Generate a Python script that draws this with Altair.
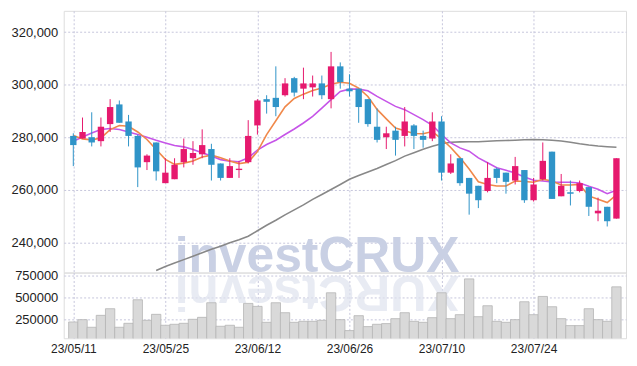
import altair as alt
import pandas as pd

# ---------------- data ----------------
dates = ["23/05/11", "23/05/12", "23/05/15", "23/05/16", "23/05/17", "23/05/18", "23/05/19",
         "23/05/22", "23/05/23", "23/05/24", "23/05/25", "23/05/26", "23/05/30", "23/05/31",
         "23/06/01", "23/06/02", "23/06/05", "23/06/07", "23/06/08", "23/06/09", "23/06/12",
         "23/06/13", "23/06/14", "23/06/15", "23/06/16", "23/06/19", "23/06/20", "23/06/21",
         "23/06/22", "23/06/23", "23/06/26", "23/06/27", "23/06/28", "23/06/29", "23/06/30",
         "23/07/03", "23/07/04", "23/07/05", "23/07/06", "23/07/07", "23/07/10", "23/07/11",
         "23/07/12", "23/07/13", "23/07/14", "23/07/17", "23/07/18", "23/07/19", "23/07/20",
         "23/07/21", "23/07/24", "23/07/25", "23/07/26", "23/07/27", "23/07/28", "23/07/31",
         "23/08/01", "23/08/02", "23/08/03", "23/08/04"]

opens = [280500, 279500, 280000, 278500, 285000, 292500, 286000, 280500, 270500, 278000,
         262500, 264000, 270500, 272000, 273500, 275500, 270000, 264500, 267500, 270500,
         284500, 294500, 295000, 296000, 302500, 298500, 299000, 300500, 294500, 307000,
         298500, 298500, 294500, 284000, 280000, 282500, 280500, 284500, 280500, 279500,
         286000, 266500, 272000, 264500, 261500, 259500, 268000, 266500, 263500, 267500,
         256000, 264000, 274500, 257500, 259000, 259500, 261000, 251000, 253500, 249000]
highs = [281500, 287500, 289500, 287500, 294500, 294000, 288500, 281000, 273500, 278000,
         272000, 272000, 279500, 278500, 283000, 277500, 270000, 272000, 271000, 286500,
         294500, 296000, 307000, 302500, 303000, 306500, 303500, 303500, 312500, 308500,
         304000, 298500, 294500, 291000, 284000, 284000, 291500, 285000, 282500, 289500,
         288000, 273500, 272000, 264500, 261500, 270500, 268500, 266500, 272500, 267500,
         264500, 278000, 274500, 266000, 263500, 263500, 261000, 257000, 253500, 272000]
lows = [269000, 279500, 276500, 276500, 282000, 285500, 276500, 261000, 267500, 263500,
        262500, 264000, 268500, 269500, 272000, 263500, 263500, 264500, 264500, 270000,
        281000, 289000, 288000, 295500, 295500, 294500, 295500, 294500, 291000, 298500,
        295500, 285500, 284000, 278000, 275500, 273000, 276500, 275500, 276000, 278500,
        263500, 266000, 261500, 250500, 253000, 259000, 262500, 258500, 262000, 255000,
        255500, 263500, 256500, 257500, 254000, 259000, 250000, 248000, 246000, 249000]
closes = [277000, 282000, 278000, 284000, 291500, 285500, 280500, 268500, 273000, 267000,
          266500, 269500, 275500, 274000, 277000, 269500, 264500, 269000, 268000, 280500,
          294000, 293500, 291500, 300500, 297000, 300500, 300500, 296000, 307000, 301000,
          297500, 291500, 285000, 279000, 281500, 279000, 286000, 280500, 279000, 286000,
          266500, 270000, 262500, 258500, 256000, 264500, 264500, 263000, 269000, 256000,
          262000, 271000, 256500, 261500, 258500, 262500, 253500, 252000, 248000, 272000]

ma5 = [280640, 279360, 278980, 279730, 282920, 284440, 284170, 282010, 279130, 275340,
       271550, 269650, 270140, 270980, 272490, 273180, 272150, 270900, 269950, 270450,
       274500, 281020, 286260, 291560, 294780, 296410, 297820, 298770, 300210, 300960,
       300590, 298690, 295540, 290610, 287010, 283490, 282460, 281400, 281330, 282160,
       279360, 276100, 272230, 267870, 263020, 261960, 261420, 261420, 263320, 263130,
       262870, 264000, 263320, 261800, 261800, 261990, 257630, 256380, 255090, 258010]
ma20 = [278480, 280110, 281630, 282920, 283300, 282920, 282010, 281020, 280000, 278860,
        277840, 276850, 276320, 275340, 274050, 272800, 271470, 270900, 270640, 272150,
        275070, 277230, 278860, 281020, 283150, 285420, 287960, 291110, 294290, 297440,
        298310, 298310, 297700, 295540, 293650, 291750, 290500, 288610, 286710, 284550,
        281020, 277840, 275940, 274690, 272150, 270260, 268360, 267380, 266350, 264840,
        263580, 263320, 262940, 262830, 262830, 262560, 261310, 260170, 258500, 259790]
ma60 = [None, None, None, None, None, None, None, None, None, 229200,
        230720, 232040, 233370, 234700, 236020, 237350, 238490, 239820, 240950, 242280,
        244360, 246450, 248350, 250430, 252330, 254220, 256310, 258200, 260100, 261990,
        263960, 265400, 266730, 268060, 269570, 271090, 272800, 274120, 275450, 276590,
        277540, 278100, 278220, 278260, 278290, 278480, 278640, 278750, 278860, 279010,
        279130, 279050, 278860, 278560, 278100, 277500, 277040, 276660, 276400, 276210]

volume = [223700, 250000, 163500, 298900, 374100, 163500, 208600, 475600, 242500, 310200,
          186100, 197400, 208600, 253800, 276300, 441700, 174800, 186100, 163500, 434200,
          400400, 219900, 441700, 328900, 219900, 231200, 231200, 242500, 554500, 250000,
          126000, 295100, 171100, 197400, 204900, 261300, 328900, 231200, 219900, 272600,
          554500, 261300, 306400, 712400, 283800, 407900, 231200, 219900, 250000, 453000,
          306400, 513200, 396600, 261300, 182300, 182300, 374100, 250000, 231200, 622200]

price_ticks = [240000, 260000, 280000, 300000, 320000]
volume_ticks = [250000, 500000, 750000]
label_index = [0, 10, 20, 30, 40, 50]
watermark = "investCRUX"

# ---------------- frame ----------------
df = pd.DataFrame({
    "i": list(range(len(dates))), "date": dates,
    "open": opens, "high": highs, "low": lows, "close": closes,
    "ma5": ma5, "ma20": ma20, "ma60": ma60, "vol": volume,
})
df["dir"] = ["up" if c >= o else "down" for o, c in zip(opens, closes)]

W = 565
H_PRICE = 263
H_VOL = 66
GRID = "#c6c6dc"
FONT = "Liberation Sans"
WM_X = 254.5

x_scale = alt.Scale(domain=[-0.5, len(dates) - 0.5], nice=False, zero=False)
label_expr = "[" + ",".join("'%s'" % d for d in dates) + "][datum.value]"

x_top = alt.X("i:Q", scale=x_scale,
              axis=alt.Axis(values=label_index, labels=False, ticks=False, domain=False,
                            grid=True, gridColor=GRID, gridDash=[2, 2], title=None,
                            minExtent=0, maxExtent=0, offset=0))
x_bot = alt.X("i:Q", scale=x_scale,
              axis=alt.Axis(values=label_index, labelExpr=label_expr, ticks=False, domain=False,
                            grid=True, gridColor=GRID, gridDash=[2, 2], title=None,
                            labelFont=FONT, labelFontSize=12, labelColor="#222",
                            labelPadding=5, labelFlush=False))

p_scale = alt.Scale(domain=[228440, 328150], nice=False, zero=False)
y_axis = alt.Axis(values=price_ticks, format=",.0f", title=None, ticks=False, domain=False,
                  gridColor=GRID, gridDash=[2, 2], labelFont=FONT, labelFontSize=13,
                  labelColor="#222", labelPadding=6, minExtent=53, maxExtent=53)

color = alt.Color("dir:N", scale=alt.Scale(domain=["up", "down"], range=["#e6196e", "#2f94c8"]),
                  legend=None)

base = alt.Chart(df)

mark_wm = base.mark_text(text=watermark, font=FONT, fontWeight="bold", fontSize=50,
                         color="#c9d0e4", align="center", baseline="alphabetic").encode(
    x=alt.value(WM_X), y=alt.value(H_PRICE - 1)).transform_filter("datum.i == 0")

ma60_line = base.mark_line(color="#888888", strokeWidth=1.6, clip=True).encode(
    x=x_top, y=alt.Y("ma60:Q", scale=p_scale, axis=y_axis))
ma20_line = base.mark_line(color="#c655e8", strokeWidth=1.6, clip=True).encode(
    x=x_top, y=alt.Y("ma20:Q", scale=p_scale, axis=y_axis))
ma5_line = base.mark_line(color="#f0884a", strokeWidth=1.6, clip=True).encode(
    x=x_top, y=alt.Y("ma5:Q", scale=p_scale, axis=y_axis))

wicks = base.mark_rule(strokeWidth=1).encode(
    x=x_top, y=alt.Y("low:Q", scale=p_scale, axis=y_axis), y2="high:Q", color=color)
bodies = base.mark_bar(size=6.4).encode(
    x=x_top, y=alt.Y("open:Q", scale=p_scale, axis=y_axis), y2="close:Q", color=color)

price = alt.layer(mark_wm, ma60_line, ma20_line, ma5_line, wicks, bodies).properties(
    width=W, height=H_PRICE)

v_axis = alt.Axis(values=volume_ticks, format="d", title=None, ticks=False, domain=False,
                  gridColor=GRID, gridDash=[2, 2], labelFont=FONT, labelFontSize=13,
                  labelColor="#222", labelPadding=6, minExtent=53, maxExtent=53)
v_scale = alt.Scale(domain=[39000, 784000], nice=False, zero=False)

reflect = base.mark_text(text=watermark[::-1], font=FONT, fontWeight="bold", fontSize=50,
                         color="#dfe3ef", opacity=0.7, angle=180, align="center",
                         baseline="alphabetic").encode(
    x=alt.value(WM_X), y=alt.value(3)).transform_filter("datum.i == 0")

vol_bars = base.mark_bar(size=9.4, fill="#d9d9d9", stroke="#b4b4b4", strokeWidth=0.8,
                         clip=True).encode(
    x=x_bot, y=alt.Y("vol:Q", scale=v_scale, axis=v_axis))

vol = alt.layer(reflect, vol_bars).properties(width=W, height=H_VOL)

chart = alt.vconcat(price, vol, spacing=0, bounds="flush").properties(
    padding={"left": 2, "top": 1, "right": 2, "bottom": 2}
).configure_view(stroke="#d4d4d4").configure(background="white")

chart.save("out.html", embed_options={"renderer": "svg", "actions": False})
